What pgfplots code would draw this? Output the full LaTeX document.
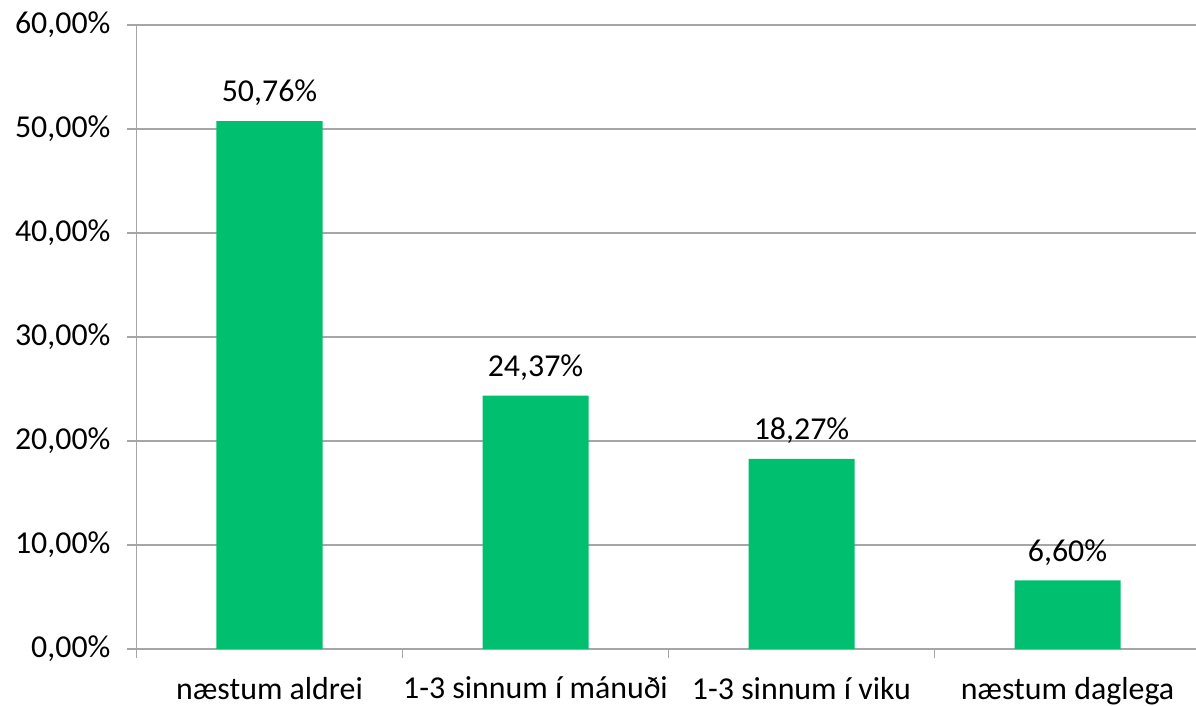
\documentclass[border=0pt]{standalone}
\usepackage{pgfplots}
\pgfplotsset{compat=1.18}
\usepackage{fontspec}
\setmainfont{Carlito}
\definecolor{bargreen}{HTML}{00BF6F}
\definecolor{gridgray}{HTML}{A6A6A6}

\begin{document}
\begin{tikzpicture}
  \useasboundingbox (0,0) rectangle (598bp,353bp);
  \begin{axis}[
      at={(68.25bp,28.5bp)}, anchor=south west,
      scale only axis,
      width=532bp, height=312bp,
      ybar, bar width=53bp,
      xmin=-0.5, xmax=3.5,
      ymin=0, ymax=60,
      ytick={0,10,...,60},
      xtick={0,1,2,3},
      xticklabels={næstum aldrei, 1-3 sinnum í mánuði, 1-3 sinnum í viku, næstum daglega},
      minor xtick={-0.5,0.5,1.5,2.5,3.5},
      major x tick style={draw=none},
      minor tick length=4.5bp,
      major tick length=4.5bp,
      tick align=outside,
      tick style={gridgray, line width=0.75bp},
      axis x line*=bottom, axis y line*=left,
      axis line style={gridgray, line width=0.75bp, -},
      ymajorgrids, grid style={gridgray, line width=0.75bp},
      /pgf/number format/assume math mode=true,
      yticklabel={\pgfmathprintnumber[fixed,fixed zerofill,precision=2,use comma]{\tick}\%},
      yticklabel style={font=\fontsize{16}{19}\selectfont, xshift=-5bp},
      xticklabel style={font=\fontsize{16}{19}\selectfont, yshift=-6bp},
      nodes near coords={\pgfmathprintnumber[fixed,fixed zerofill,precision=2,use comma,assume math mode=true]{\pgfplotspointmeta}\%},
      every node near coord/.append style={font=\fontsize{16}{19}\selectfont, black, yshift=4bp},
    ]
    \addplot[fill=bargreen, draw=none] coordinates {
      (0, 50.76)
      (1, 24.37)
      (2, 18.27)
      (3, 6.60)
    };
  \end{axis}
\end{tikzpicture}
\end{document}
